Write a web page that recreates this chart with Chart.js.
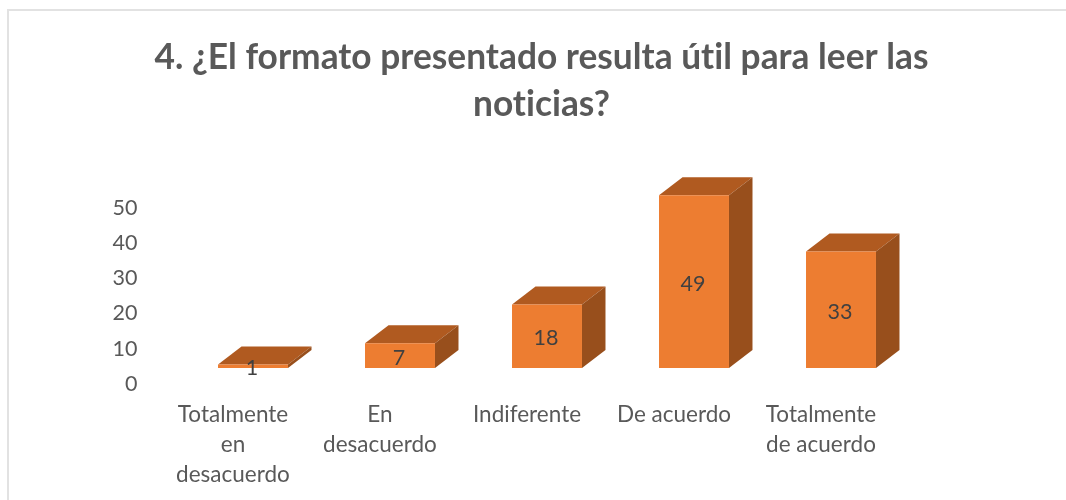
<!DOCTYPE html>
<html><head><meta charset="utf-8">
<style>html,body{margin:0;padding:0;background:#fff;overflow:hidden}
#frame{position:absolute;left:7px;top:9px;width:1059px;height:491px;border-left:2px solid #e2e2e2;border-top:2px solid #e2e2e2;box-sizing:border-box}
#wrap{position:absolute;left:0;top:0;width:1066px;height:500px}</style>
<script src="https://cdn.jsdelivr.net/npm/chart.js@4"></script></head>
<body><div id="frame"></div><div id="wrap"><canvas id="c" width="1066" height="500"></canvas></div>
<script>
const categories=[["Totalmente","en","desacuerdo"],["En","desacuerdo"],"Indiferente","De acuerdo",["Totalmente","de acuerdo"]];
const values=[1,7,18,49,33];
const titleLines=["4. ¿El formato presentado resulta útil para leer las","noticias?"];
const FRONT="#ed7d31",TOP="#b05a20",SIDE="#984f1c",TEXT="#595959",LABEL="#404040",DX=23.5,DY=-18;
const faces={id:"faces",
 beforeDraw(ch){ch.ctx.letterSpacing="0.01px";},
 beforeDatasetsDraw(ch){const ctx=ch.ctx;
  ch.getDatasetMeta(0).data.forEach(b=>{const p=b.getProps(["x","y","base","width"],true);
   const l=p.x-p.width/2,r=p.x+p.width/2;
   ctx.fillStyle=TOP;ctx.beginPath();ctx.moveTo(l,p.y);ctx.lineTo(l+DX,p.y+DY);ctx.lineTo(r+DX,p.y+DY);ctx.lineTo(r,p.y);ctx.closePath();ctx.fill();
   ctx.fillStyle=SIDE;ctx.beginPath();ctx.moveTo(r,p.y);ctx.lineTo(r+DX,p.y+DY);ctx.lineTo(r+DX,p.base+DY);ctx.lineTo(r,p.base);ctx.closePath();ctx.fill();
  });},
 afterDatasetsDraw(ch){const ctx=ch.ctx;ctx.fillStyle=LABEL;ctx.font='21.5px Lato';ctx.textAlign="center";ctx.textBaseline="middle";
  ch.getDatasetMeta(0).data.forEach((b,i)=>{const p=b.getProps(["x","y","base"],true);ctx.fillText(String(values[i]),p.x-1,(p.y+p.base)/2+2);});}
};
Chart.defaults.animation=false;
new Chart(document.getElementById("c"),{type:"bar",plugins:[faces],
 data:{labels:categories,datasets:[{data:values,backgroundColor:FRONT,barPercentage:0.476,categoryPercentage:1,yAxisID:"y"}]},
 options:{responsive:false,
  layout:{padding:{left:17,right:0,top:0,bottom:0}},
  plugins:{legend:{display:false},tooltip:{enabled:false},
   title:{display:true,text:titleLines,color:TEXT,font:{family:'Lato',size:35.3,weight:"bold",lineHeight:1.333},padding:{top:34,bottom:63.5}}},
  scales:{
   x:{grid:{display:false},border:{display:false},afterFit(s){s.height=132;},
      ticks:{color:TEXT,font:{family:'Lato',size:22.5,lineHeight:1.333},maxRotation:0,autoSkip:false,labelOffset:-20,padding:24}},
   y:{min:0,max:50,grid:{display:false},border:{display:false},
      afterFit(s){s.width=162.5;},
      ticks:{stepSize:10,color:TEXT,font:{family:'Lato',size:21.5},labelOffset:16,padding:34}},
   yR:{position:"right",min:0,max:50,grid:{display:false},border:{display:false},ticks:{display:false},afterFit(s){s.width=151.5;}}
  }}});
</script></body></html>
